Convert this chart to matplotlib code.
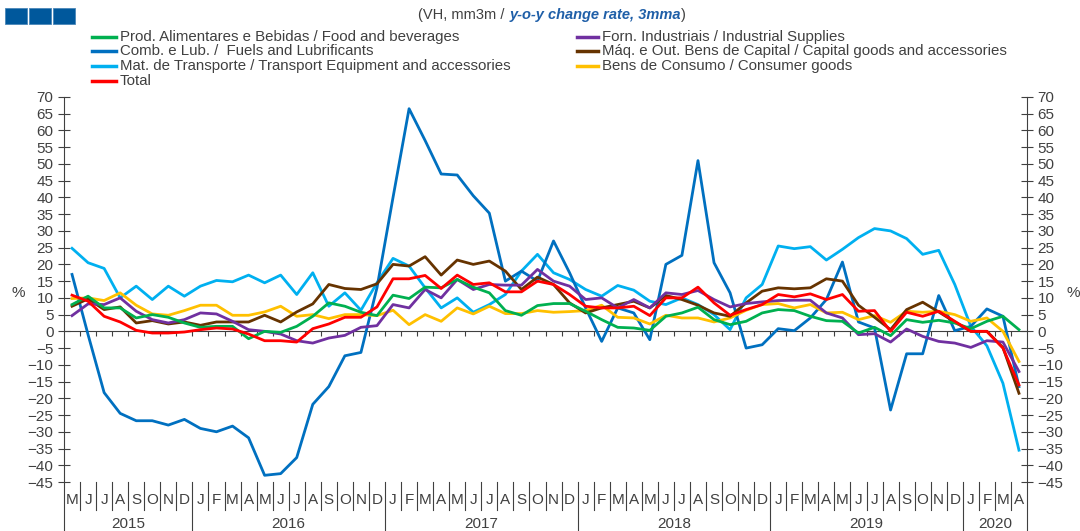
import matplotlib
matplotlib.use("Agg")
import matplotlib.pyplot as plt
import matplotlib.transforms as mtransforms
from matplotlib.lines import Line2D
from matplotlib.patches import Rectangle
from matplotlib.offsetbox import TextArea, HPacker, AnchoredOffsetbox

plt.rcParams['font.family'] = ['Liberation Sans Narrow', 'Liberation Sans', 'DejaVu Sans']

# months May 2015 .. Apr 2020
month_labels = (['M', 'J', 'J', 'A', 'S', 'O', 'N', 'D']
                + ['J', 'F', 'M', 'A', 'M', 'J', 'J', 'A', 'S', 'O', 'N', 'D'] * 4
                + ['J', 'F', 'M', 'A'])
years = ['2015', '2016', '2017', '2018', '2019', '2020']
year_lengths = [8, 12, 12, 12, 12, 4]

food = [8, 10.5, 7, 7, 4, 5, 4.2, 2.5,
        1.2, 1.5, 1.5, -2.2, 0, -0.3, 1.5, 4.5, 8.5, 7.5, 5.7, 4.7,
        10.8, 9.8, 13.2, 13, 15.5, 13.2, 11.5, 6.2, 4.8, 7.7, 8.3, 8.3,
        6, 3.5, 1.2, 1, 0.3, 4.5, 5.5, 7.2, 3.5, 2, 3, 5.5,
        6.5, 6.2, 4.5, 3.2, 3, -0.5, 1.2, -1.3, 3.5, 2.7, 3.3, 2.5,
        0.8, 3, 4.5, 0.5]
fuels = [17, -1, -18.3, -24.5, -26.7, -26.7, -28, -26.3,
         -29, -30, -28.3, -31.8, -43, -42.5, -37.7, -21.8, -16.5, -7.3, -6.3, 13,
         40, 66.5, 57, 47, 46.7, 40.5, 35.3, 15, 18, 15, 27, 17.5,
         7, -3, 7, 5.5, -2.5, 20, 22.7, 51, 20.5, 11.5, -5, -4,
         0.8, 0.2, 4, 9.5, 20.7, 2.8, 1, -23.5, -6.7, -6.7, 10.7, 0.2,
         1.5, 6.7, 4.5, -16.5]
transport = [24.8, 20.5, 18.8, 10, 13.5, 9.5, 13.5, 10.5,
             13.5, 15.2, 14.8, 16.8, 14.5, 16.8, 11, 17.5, 7.5, 11.5, 6.3, 14.5,
             21.8, 19.5, 13, 7, 10, 5.7, 8, 11, 18, 23, 17.5, 15.5,
             12.5, 10.5, 13.7, 12.3, 9, 8, 10, 8, 5, 0.5, 10, 14,
             25.5, 24.7, 25.3, 21.3, 24.5, 28, 30.7, 30, 27.7, 23, 24.2, 14,
             1.5, -4.3, -15.5, -35.5]
total = [10.8, 9, 4.5, 2.8, 0.3, -0.5, -0.5, -0.2,
         0.5, 1, 0.7, -0.8, -2.8, -2.8, -3.2, 0.8, 2.2, 4.2, 4.2, 7.3,
         15.7, 15.7, 16.7, 12.8, 16.8, 14, 14.5, 11.8, 11.8, 15, 14, 11,
         7.5, 7, 7, 7.5, 4.7, 10, 10, 13.2, 8.5, 4.8, 6.5, 8,
         11, 10.3, 11.2, 9.5, 11, 6, 6.2, 0, 5.7, 4.5, 6, 3,
         0, 0, -5, -16]
industrial = [4.7, 8.2, 8, 10, 6, 3.5, 2.5, 3.5,
              5.5, 5.2, 3, 0.5, 0, -0.8, -2.8, -3.5, -2, -1.2, 1.2, 1.7,
              8, 7, 12.5, 10, 15.5, 12.5, 14, 13.8, 13.8, 18.5, 15, 13.5,
              9.5, 10, 7, 9.5, 7, 11.5, 11, 12.2, 9.5, 7.3, 8.3, 8.8,
              9.2, 9.3, 9.3, 5.5, 4, -1, -0.7, -3.2, 0.7, -1.5, -3, -3.5,
              -4.8, -2.8, -3.2, -12]
capital = [7.5, 9.7, 6.5, 7.3, 2.5, 3.2, 2.2, 2.8,
           1.8, 2.8, 2.8, 2.8, 4.8, 2.8, 5.8, 8.2, 14, 12.8, 12.5, 14.2,
           20, 19.5, 22.3, 16.8, 21.3, 20, 21, 18, 12.5, 16.2, 14, 8.5,
           5.5, 7, 8, 9, 7, 10.7, 9.5, 7.8, 5.5, 4.5, 8.5, 12,
           13, 12.7, 13, 15.7, 15, 7.8, 4.2, 0.5, 6.5, 8.7, 5.8, 2.8,
           0, 0, -4.8, -18.5]
consumer = [9.8, 10, 9.2, 11.5, 7.8, 5.2, 4.8, 6.2,
            7.8, 7.8, 4.8, 4.8, 5.8, 7.5, 4.5, 5, 3.8, 5, 5, 4.7,
            6.3, 2, 5, 3, 7, 5.2, 7.5, 5.3, 5.3, 6.2, 5.7, 5.9,
            6.2, 7.8, 4.2, 4, 2.2, 4.8, 4, 4, 2.8, 4, 6.3, 8,
            8.3, 7, 8, 5.5, 5.7, 3.5, 4.7, 2.7, 6, 5.7, 6, 5,
            3, 4, 0, -9]

# legend order: left column then right column
series = [
    ('Prod. Alimentares e Bebidas / Food and beverages', food, '#00b050'),
    ('Comb. e Lub. /  Fuels and Lubrificants', fuels, '#0070c0'),
    ('Mat. de Transporte / Transport Equipment and accessories', transport, '#00b0f0'),
    ('Total', total, '#ff0000'),
    ('Forn. Industriais / Industrial Supplies', industrial, '#7030a0'),
    ('Máq. e Out. Bens de Capital / Capital goods and accessories', capital, '#663300'),
    ('Bens de Consumo / Consumer goods', consumer, '#ffc000'),
]
draw_order = [2, 1, 6, 5, 4, 0, 3]

W, H = 1080, 531
fig = plt.figure(figsize=(W / 100, H / 100), dpi=100)
ax = fig.add_axes([64 / W, (H - 482) / H, (1027 - 64) / W, 385 / H])

grey = '#404040'
x = [i + 0.5 for i in range(len(month_labels))]
for k in draw_order:
    name, vals, col = series[k]
    ax.plot(x, vals, color=col, lw=2.0, solid_joinstyle='round', zorder=3)

ax.set_xlim(0, len(month_labels))
ax.set_ylim(-45, 70)
ax.set_yticks(range(-45, 71, 5))
ax.set_xticks([])
ax.tick_params(axis='y', direction='inout', length=9, width=0.8, color=grey,
               labelcolor=grey, labelsize=11, left=True, right=True,
               labelleft=True, labelright=True, pad=3)
for s in ['top', 'bottom']:
    ax.spines[s].set_visible(False)
for s in ['left', 'right']:
    ax.spines[s].set_color(grey)
    ax.spines[s].set_linewidth(0.8)

ax.axhline(0, color=grey, lw=0.8, zorder=2)
ax.vlines(range(1, len(month_labels)), -1.4, 0, color=grey, lw=0.8, zorder=2)

trans = mtransforms.blended_transform_factory(ax.transData, ax.transAxes)
for i, lab in enumerate(month_labels):
    ax.text(i + 0.5, -0.047, lab, transform=trans, ha='center', va='center',
            fontsize=11, color=grey)

bounds = [0]
for n in year_lengths:
    bounds.append(bounds[-1] + n)
for b in range(0, len(month_labels) + 1):
    low = -0.127 if b in bounds else -0.073
    ax.plot([b, b], [0, low], transform=trans, color=grey, lw=0.8, clip_on=False)
for j, yr in enumerate(years):
    ax.text((bounds[j] + bounds[j + 1]) / 2, -0.109, yr, transform=trans,
            ha='center', va='center', fontsize=11, color=grey)

fig.text(18 / W, 1 - 293 / H, '%', ha='center', va='center', fontsize=11, color=grey)
fig.text(1073 / W, 1 - 293 / H, '%', ha='center', va='center', fontsize=11, color=grey)

# three squares top-left
for x0 in [5, 29, 53]:
    fig.add_artist(Rectangle((x0 / W, 1 - 24 / H), 22 / W, 16 / H,
                             transform=fig.transFigure, facecolor='#00589c',
                             edgecolor='#4a86b8', lw=0.6))

# subtitle
t1 = TextArea('(VH, mm3m / ', textprops=dict(color=grey, fontsize=10.5))
t2 = TextArea('y-o-y change rate, 3mma', textprops=dict(color='#1f5fa8', fontsize=10.5,
                                                       style='italic', weight='bold'))
t3 = TextArea(')', textprops=dict(color=grey, fontsize=10.5))
box = HPacker(children=[t1, t2, t3], align='baseline', pad=0, sep=0)
anch = AnchoredOffsetbox(loc='center', child=box, frameon=False,
                         bbox_to_anchor=(552 / W, 1 - 15 / H),
                         bbox_transform=fig.transFigure, borderpad=0, pad=0)
fig.add_artist(anch)

# legend drawn by hand
rows = [37, 51, 66, 81]
cols = [(92, 116, 120), (577, 598, 602)]
for k, (name, vals, col) in enumerate(series):
    c = 0 if k < 4 else 1
    r = k if k < 4 else k - 4
    x1, x2, xt = cols[c]
    yy = 1 - rows[r] / H
    fig.add_artist(Line2D([x1 / W, x2 / W], [yy, yy], transform=fig.transFigure,
                          color=col, lw=2.5))
    fig.text(xt / W, yy, name, ha='left', va='center', fontsize=10.8, color=grey)

fig.savefig('out.png', dpi=100)
